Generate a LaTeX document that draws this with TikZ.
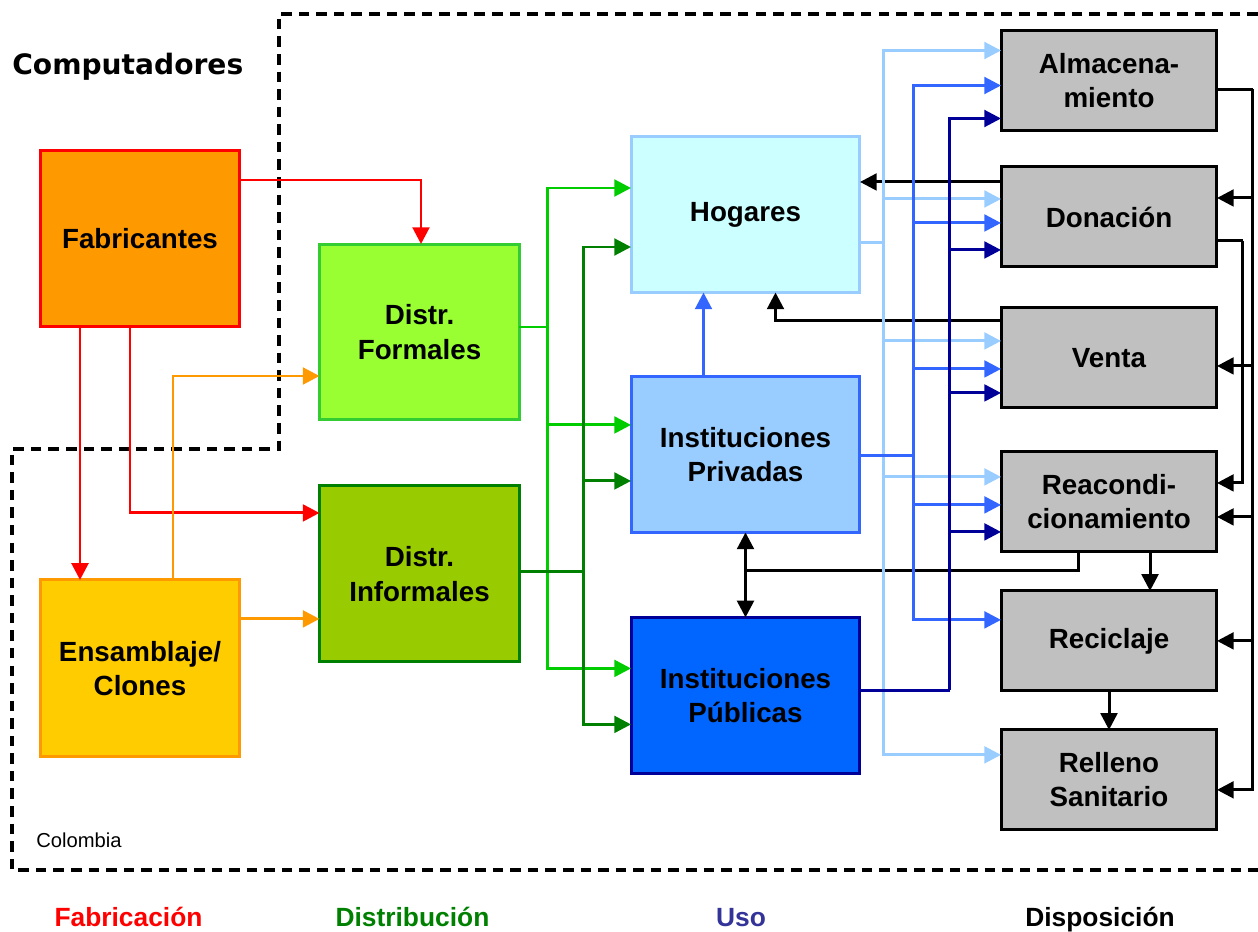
\documentclass[tikz,border=0pt]{standalone}
\usepackage{fontspec}
\setmainfont{Liberation Sans}
\newfontfamily\titlefont{DejaVu Sans}
\usepackage{xcolor}
\usetikzlibrary{arrows.meta,positioning,calc}
\definecolor{fabfill}{HTML}{FF9900}
\definecolor{ensfill}{HTML}{FFCC00}
\definecolor{dforfill}{HTML}{99FF33}
\definecolor{dforline}{HTML}{33CC33}
\definecolor{dinffill}{HTML}{99CC00}
\definecolor{dgreen}{HTML}{008000}
\definecolor{lgreen}{HTML}{00CC00}
\definecolor{hogfill}{HTML}{CCFFFF}
\definecolor{lblue}{HTML}{99CCFF}
\definecolor{mblue}{HTML}{3366FF}
\definecolor{pubfill}{HTML}{0066FF}
\definecolor{navy}{HTML}{000099}
\definecolor{usoblue}{HTML}{333399}
\definecolor{grayfill}{HTML}{C0C0C0}

\begin{document}
\begin{tikzpicture}[x=0.02cm, y=-0.02cm,
  block/.style={rectangle, draw, line width=1.7pt, align=center, outer sep=0pt,
                font=\fontsize{15.8}{19.5}\selectfont\bfseries, inner sep=0pt},
  bigbox/.style={block, minimum width=4cm, minimum height=3.54cm},
  usebox/.style={block, minimum width=4.58cm, minimum height=3.12cm},
  dispbox/.style={block, fill=grayfill, minimum width=4.32cm, minimum height=2cm},
  wire/.style={line width=1.7pt},
  tip/.style={-{Triangle[length=9.5pt,width=9.5pt]}},
  stage/.style={anchor=base, font=\fontsize{15}{18}\selectfont\bfseries},
  >=Triangle
]
  \useasboundingbox (0,0) rectangle (1258,932);

  % Region
  \draw[line width=2pt, dash pattern=on 6pt off 4pt]
    (1258,14) -- (279,14) -- (279,449) -- (12,449) -- (12,870) -- (1258,870);
  \node[anchor=base west, inner sep=0pt, font=\titlefont\fontsize{16}{20}\selectfont\bfseries] (titulo) at (12,75) {Computadores};
  \node[anchor=west, inner sep=0pt, font=\fontsize{11.5}{14}\selectfont] (pais) at (36,840) {Colombia};

  % Blocks
  \node[bigbox, fill=fabfill, draw=red] (fab) at (140,238.5) {Fabricantes};
  \node[bigbox, fill=ensfill, draw=fabfill, below=5.06cm of fab] (ens) {Ensamblaje/\\Clones};
  \node[bigbox, fill=dforfill, draw=dforline, minimum height=3.52cm] (dfor) at (419.5,332) {Distr.\\Formales};
  \node[bigbox, fill=dinffill, draw=dgreen, minimum height=3.52cm, below=1.32cm of dfor] (dinf) {Distr.\\Informales};
  \node[usebox, fill=hogfill, draw=lblue] (hog) at (745.5,214.5) {Hogares};
  \node[usebox, fill=lblue, draw=mblue, below=1.68cm of hog] (priv) {Instituciones\\Privadas};
  \node[usebox, fill=pubfill, draw=navy, below=1.7cm of priv] (pub) {Instituciones\\P\'ublicas};
  \node[dispbox] (alm) at (1109,80.5) {Almacena-\\miento};
  \node[dispbox, below=0.73cm of alm] (don) {Donaci\'on};
  \node[dispbox, below=0.82cm of don] (ven) {Venta};
  \node[dispbox, below=0.88cm of ven] (rea) {Reacondi-\\cionamiento};
  \node[dispbox, below=0.78cm of rea] (rec) {Reciclaje};
  \node[dispbox, below=0.78cm of rec] (rel) {Relleno\\Sanitario};

  % Stages
  \node[stage, text=red] (s1) at (128.5,926) {Fabricaci\'on};
  \node[stage, text=dgreen] (s2) at (412.5,926) {Distribuci\'on};
  \node[stage, text=usoblue] (s3) at (741,926) {Uso};
  \node[stage] (s4) at (1100,926) {Disposici\'on};

  % Fabricacion
  \draw[wire, red, tip] ($(fab.east)+(0,-58.5)$) -| ($(dfor.north)+(1.5,0)$);
  \draw[wire, red, tip] ($(fab.south)+(-60,0)$) -- ($(ens.north)+(-60,0)$);
  \draw[wire, red, tip] ($(fab.south)+(-10,0)$) |- ($(dinf.west)+(0,-61)$);
  \draw[wire, fabfill, tip] ($(ens.north)+(33,0)$) |- ($(dfor.west)+(0,44)$);
  \draw[wire, fabfill, tip] ($(ens.east)+(0,-49.5)$) coordinate (ej) -- (dinf.west |- ej);

  % Distribucion
  \coordinate (lgj) at ($(dfor.east)+(28,-5)$);
  \coordinate (dgj) at ($(dinf.east)+(64,-2)$);
  \draw[wire, lgreen] ($(dfor.east)+(0,-5)$) -- (lgj);
  \foreach \nm/\dy in {hog/-26.5, priv/-29.5, pub/-27}
    \draw[wire, lgreen, tip] (lgj) |- ($(\nm.west)+(0,\dy)$);
  \draw[wire, dgreen] ($(dinf.east)+(0,-2)$) -- (dgj);
  \foreach \nm/\dy in {hog/32.5, priv/26.5, pub/29}
    \draw[wire, dgreen, tip] (dgj) |- ($(\nm.west)+(0,\dy)$);

  % Uso
  \draw[wire, mblue, tip] ($(priv.north)+(-42,0)$) -- ($(hog.south)+(-42,0)$);
  \coordinate (rj) at ($(priv.south)+(0,38)$);
  \draw[wire] ($(rea.south)+(-31,0)$) |- (rj);
  \draw[wire, tip] (rj) -- (priv.south);
  \draw[wire, tip] (rj) -- (pub.north);
  \draw[wire, tip] ($(don.west)+(0,-35)$) coordinate (dh) -- (hog.east |- dh);
  \draw[wire, tip] ($(ven.west)+(0,-37)$) -| ($(hog.south)+(30,0)$);

  % Disposicion
  \coordinate (lbj) at ($(hog.east)+(24,28)$);
  \coordinate (mbj) at ($(priv.east)+(54,1)$);
  \coordinate (nvj) at ($(pub.east)+(90,-5)$);
  \draw[wire, lblue] ($(hog.east)+(0,28)$) -- (lbj);
  \foreach \nm/\dy in {alm/-30, don/-18, ven/-17, rea/-25, rel/-25}
    \draw[wire, lblue, tip] (lbj) |- ($(\nm.west)+(0,\dy)$);
  \draw[wire, mblue] ($(priv.east)+(0,1)$) -- (mbj);
  \foreach \nm/\dy in {alm/5, don/6, ven/11, rea/3, rec/-21}
    \draw[wire, mblue, tip] (mbj) |- ($(\nm.west)+(0,\dy)$);
  \draw[wire, navy] ($(pub.east)+(0,-5)$) -- (nvj);
  \foreach \nm/\dy in {alm/38, don/33, ven/35, rea/30}
    \draw[wire, navy, tip] (nvj) |- ($(\nm.west)+(0,\dy)$);

  % Retornos
  \coordinate (obus) at ($(alm.east)+(36,9)$);
  \coordinate (ibus) at ($(don.east)+(26,24)$);
  \draw[wire] ($(alm.east)+(0,9)$) -- (obus);
  \foreach \nm/\dy in {don/-19, ven/8, rea/15, rec/0, rel/10}
    \draw[wire, tip] (obus) |- ($(\nm.east)+(0,\dy)$);
  \draw[wire] ($(don.east)+(0,24)$) -- (ibus);
  \draw[wire, tip] (ibus) |- ($(rea.east)+(0,-19)$);
  \draw[wire, tip] ($(rea.south)+(41,0)$) -- ($(rec.north)+(41,0)$);
  \draw[wire, tip] (rec.south) -- (rel.north);
\end{tikzpicture}
\end{document}
